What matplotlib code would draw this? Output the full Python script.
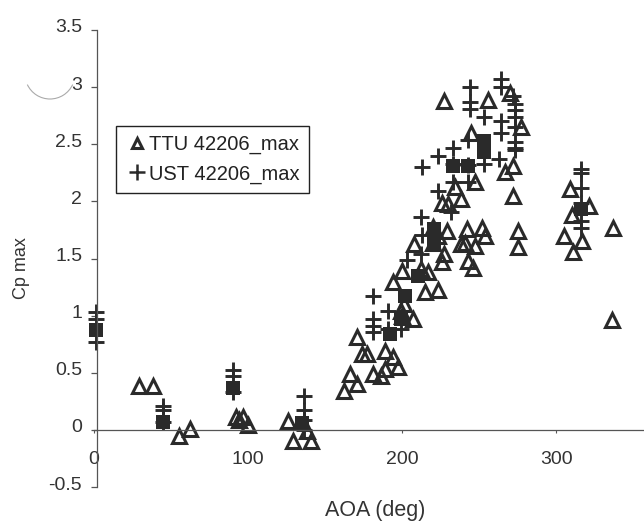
import matplotlib
matplotlib.use("Agg")
import matplotlib.pyplot as plt
from matplotlib.lines import Line2D
from matplotlib.patches import Arc
from matplotlib.transforms import IdentityTransform, ScaledTranslation

plt.rcParams['font.family'] = ['Liberation Sans', 'DejaVu Sans']

ttu_aoa = [227,256,270,277,245,272,267,247,234,238,226,230,272,309,321,310,337,305,317,311,
           275,275,242,252,254,238,241,247,243,246,220,229,223,220,227,226,208,200,194,217,
           212,215,223,201,336,171,177,174,166,171,162,189,194,197,189,181,186,200,207,199,
           29,38,55,62,92,97,94,100,126,129,141,138]
ttu_cp = [2.88,2.89,2.95,2.65,2.60,2.31,2.26,2.17,2.13,2.02,1.99,1.98,2.05,2.11,1.96,1.88,1.77,1.70,1.65,1.56,
          1.74,1.60,1.76,1.77,1.70,1.63,1.64,1.61,1.48,1.42,1.78,1.74,1.70,1.64,1.54,1.47,1.63,1.39,1.29,1.38,
          1.41,1.21,1.22,1.10,0.96,0.81,0.66,0.66,0.49,0.40,0.34,0.69,0.64,0.55,0.53,0.49,0.47,1.00,0.97,1.04,
          0.38,0.38,-0.05,0.01,0.11,0.11,0.09,0.04,0.08,-0.10,-0.10,-0.01]

ust_aoa = [264,264,244,244,244,253,264,264,272,273,273,273,273,273,273,273,263,253,243,233,
           223,213,233,243,243,233,223,232,212,213,203,212,181,316,316,316,316,316,316,
           181,181,181,191,191,199,1,1,1,45,45,45,90,90,90,136,136,136,136]
ust_cp = [3.07,3.00,3.00,2.87,2.81,2.74,2.70,2.60,2.92,2.85,2.80,2.74,2.65,2.52,2.47,2.45,2.37,2.33,2.32,2.47,
          2.40,2.30,2.33,2.54,2.17,2.17,2.09,1.91,1.86,1.71,1.49,1.54,1.17,2.28,2.25,2.12,1.99,1.83,1.77,
          0.97,0.91,0.86,1.04,0.88,0.88,1.03,0.97,0.77,0.21,0.17,0.07,0.52,0.47,0.33,0.30,0.17,0.09,0.00]

blot_aoa = [1,45,90,135,253,253,233,243,221,221,221,210,202,192,199,316]
blot_cp = [0.87,0.07,0.37,0.06,2.53,2.43,2.31,2.31,1.62,1.69,1.76,1.35,1.17,0.84,0.97,1.93]

x_ticks = [0,100,200,300]
y_ticks = [-0.5,0,0.5,1,1.5,2,2.5,3,3.5]
y_labels = ['-0.5','0','0.5','1','1.5','2','2.5','3','3.5']

ink = '#2a2a2a'
fig = plt.figure(figsize=(6.44,5.25), dpi=100)
ax = fig.add_axes([94/644, 1-487/525, 550/644, 457/525])
ax.set_xlim(0,357)
ax.set_ylim(-0.5,3.5)
ax.patch.set_alpha(0)
for s in ['top','right']:
    ax.spines[s].set_visible(False)
ax.spines['bottom'].set_position(('data',0))
ax.spines['left'].set_position(('outward',-2))
ax.spines['bottom'].set_color('#555555')
ax.spines['left'].set_color('#555555')
ax.spines['bottom'].set_linewidth(0.9)
ax.spines['left'].set_linewidth(0.9)

ax.plot(blot_aoa, blot_cp, ls='none', marker='s', ms=10.5, color=ink, mew=0, clip_on=False)
ax.plot(ust_aoa, ust_cp, ls='none', marker='+', ms=12, mew=2.1, color=ink, clip_on=False)
ax.plot(ttu_aoa, ttu_cp, ls='none', marker='^', ms=9.5, mew=2.2, mec=ink, mfc='none', clip_on=False)

ax.set_xticks(x_ticks)
ax.set_yticks(y_ticks)
ax.set_yticklabels(y_labels)
ax.tick_params(axis='y', length=4, width=0.9, color='#555555', labelsize=14, labelcolor='#333333', pad=6.5)
ax.tick_params(axis='x', length=2, width=0.8, color='#555555', labelsize=14, labelcolor='#333333', pad=13, direction='out')
lift = ScaledTranslation(0, 4/72*72/100, fig.dpi_scale_trans)
for lab in ax.get_yticklabels():
    lab.set_transform(lab.get_transform() + lift)
ax.set_xlabel('AOA (deg)', fontsize=15.5, color='#333333')
ax.xaxis.set_label_coords(0.511,-0.029)
ax.set_ylabel('Cp max', fontsize=13, color='#333333')
ax.yaxis.set_label_coords(-0.117,0.479)

handles = [Line2D([],[],ls='none',marker='^',ms=7.5,mew=2.2,mec=ink,mfc='none'),
           Line2D([],[],ls='none',marker='+',ms=12,mew=1.8,color=ink)]
leg = ax.legend(handles,['TTU 42206_max','UST 42206_max'],loc='upper left',
                bbox_to_anchor=(116/644,1-126/525),bbox_transform=fig.transFigure,
                fontsize=14.5,frameon=True,fancybox=False,framealpha=1,edgecolor='#222222',
                borderaxespad=0,handletextpad=0.0,handlelength=1.2,labelspacing=0.5,
                borderpad=0.45,labelcolor='#222222')
leg.get_frame().set_linewidth(1.0)

arc = Arc((50,525-74),50,50,theta1=205,theta2=335,color='#aaaaaa',lw=0.8,
          transform=IdentityTransform(),clip_on=False)
fig.add_artist(arc)

fig.savefig('out.png',dpi=100)
